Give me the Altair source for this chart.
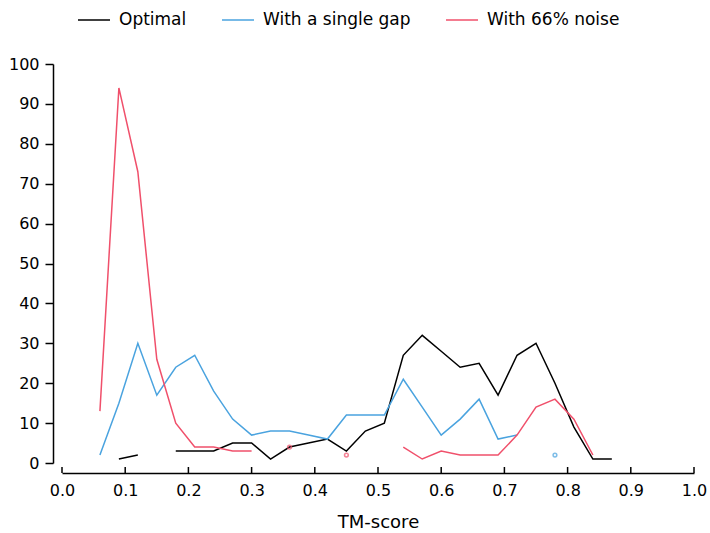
import altair as alt
import pandas as pd

# TM-score bin centres
tm_score = [0.06, 0.09, 0.12, 0.15, 0.18, 0.21, 0.24, 0.27, 0.30, 0.33,
            0.36, 0.39, 0.42, 0.45, 0.48, 0.51, 0.54, 0.57, 0.60, 0.63,
            0.66, 0.69, 0.72, 0.75, 0.78, 0.81, 0.84, 0.87]

# counts per bin (None = empty bin, drawn as a break in the line)
optimal = [None, 1, 2, None, 3, 3, 3, 5, 5, 1, 4, 5, 6, 3, 8, 10, 27, 32,
           28, 24, 25, 17, 27, 30, 20, 9, 1, 1]
single_gap = [2, 15, 30, 17, 24, 27, 18, 11, 7, 8, 8, 7, 6, 12, 12, 12, 21,
              14, 7, 11, 16, 6, 7, None, 2, None, None, None]
noise_66 = [13, 94, 73, 26, 10, 4, 4, 3, 3, None, 4, None, None, 2, None,
            None, 4, 1, 3, 2, 2, 2, 7, 14, 16, 11, 2, None]

series_names = ["Optimal", "With a single gap", "With 66% noise"]
series_colors = ["#000000", "#4aa3df", "#f0506b"]
x_ticks = [0.0, 0.1, 0.2, 0.3, 0.4, 0.5, 0.6, 0.7, 0.8, 0.9, 1.0]
y_ticks = [0, 10, 20, 30, 40, 50, 60, 70, 80, 90, 100]

rows = []
for name, values in zip(series_names, [optimal, single_gap, noise_66]):
    for i, (x, v) in enumerate(zip(tm_score, values)):
        prev_v = values[i - 1] if i > 0 else None
        next_v = values[i + 1] if i < len(values) - 1 else None
        rows.append({
            "series": name,
            "tm": x,
            "count": v,
            "isolated": v is not None and prev_v is None and next_v is None,
        })
df = pd.DataFrame(rows)
isolated = df[df["isolated"]]
ticks_df = pd.DataFrame({"tick": x_ticks})

W, H = 632, 399
FONT = "DejaVu Sans"

x_scale = alt.Scale(domain=[0, 1], nice=False)
y_scale = alt.Scale(domain=[0, 100], nice=False)

x_axis = alt.Axis(values=x_ticks, format=".1f", title="TM-score",
                  offset=10, tickSize=0, labelPadding=9,
                  labelFontSize=16, titleFontSize=18, titlePadding=15,
                  domainWidth=1.5, domainColor="black", labelColor="black",
                  titleColor="black", titleFontWeight="normal", grid=False,
                  labelOverlap=False, labelFlush=False)
y_axis = alt.Axis(values=y_ticks, title=None, offset=9, tickSize=8,
                  labelPadding=6, labelFontSize=16, domainWidth=1.5,
                  tickWidth=1.5, domainColor="black", tickColor="black",
                  labelColor="black", grid=False, labelOverlap=False,
                  labelFlush=False)
color_scale = alt.Scale(domain=series_names, range=series_colors)

lines = alt.Chart(df).mark_line(
    strokeWidth=1.5, invalid="break-paths-filter-domains"
).encode(
    x=alt.X("tm:Q", scale=x_scale, axis=x_axis),
    y=alt.Y("count:Q", scale=y_scale, axis=y_axis),
    color=alt.Color("series:N", scale=color_scale,
                    legend=alt.Legend(title=None, orient="none",
                                      direction="horizontal",
                                      legendX=15, legendY=-61,
                                      symbolType="stroke", symbolSize=1024,
                                      symbolStrokeWidth=1.5,
                                      labelFontSize=17, labelOffset=8,
                                      columnPadding=32, labelColor="black")),
    detail="series:N",
)

# bins whose neighbours are both empty get a small open marker
points = alt.Chart(isolated).mark_point(
    filled=False, size=14, strokeWidth=1.5
).encode(
    x=alt.X("tm:Q", scale=x_scale, axis=x_axis),
    y=alt.Y("count:Q", scale=y_scale, axis=y_axis),
    stroke=alt.Stroke("series:N", scale=color_scale, legend=None),
)

# x-axis tick marks pointing up from the offset axis line
x_tick_marks = alt.Chart(ticks_df).mark_rule(
    color="black", strokeWidth=1.5
).encode(
    x=alt.X("tick:Q", scale=x_scale, axis=x_axis),
    y=alt.value(H + 4),
    y2=alt.value(H + 10),
)

chart = alt.layer(lines, points, x_tick_marks).properties(
    width=W, height=H,
    autosize=alt.AutoSizeParams(type="none"),
    padding={"left": 62, "top": 64, "right": 16, "bottom": 70},
).configure(font=FONT).configure_view(stroke=None)

chart.save("out.html", embed_options={"renderer": "svg", "actions": False})
